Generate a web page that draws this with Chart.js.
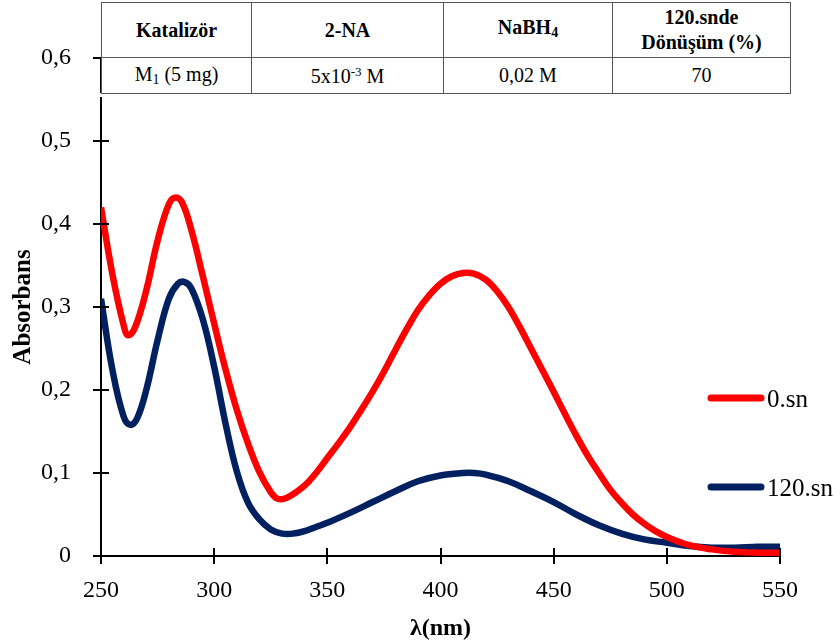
<!DOCTYPE html>
<html>
<head>
<meta charset="utf-8">
<script src="https://cdn.jsdelivr.net/npm/chart.js@4/dist/chart.umd.min.js"></script>
<style>
    html, body { margin: 0; padding: 0; background: #fff; }
    #wrap { position: relative; width: 840px; height: 643px; }
    #info {
        position: absolute; left: 101px; top: 2px; width: 689px; height: 91px;
        border-collapse: collapse; background: #fff;
        font-family: "Liberation Serif", "Times New Roman", serif; color: #000;
        table-layout: fixed;
    }
    #info td { border: 1px solid #555; text-align: center; padding: 0; }
    #info tr.head td { font-weight: bold; font-size: 20px; height: 54px; line-height: 25px; }
    #info tr.row td { font-size: 20px; height: 35px; }
    #info sub { font-size: 14px; vertical-align: -3px; }
    #info sup { font-size: 13px; vertical-align: 7px; }
    #mask { position: absolute; left: 96px; top: 93px; width: 10px; height: 4px; background: #fff; }
</style>
</head>
<body>
<div id="wrap">
    <canvas id="chart" width="840" height="643"></canvas>
    <div id="mask"></div>
    <table id="info">
        <colgroup><col style="width:150px"><col style="width:192px"><col style="width:169px"><col style="width:178px"></colgroup>
        <tr class="head">
            <td>Katalizör</td><td>2-NA</td><td>NaBH<sub>4</sub></td><td>120.snde<br>Dönüşüm (%)</td>
        </tr>
        <tr class="row">
            <td>M<sub>1</sub> (5 mg)</td><td>5x10<sup>-3</sup> M</td><td>0,02 M</td><td>70</td>
        </tr>
    </table>
</div>
<script>
// Spectra
const lambda0 = [250, 255, 260, 262, 265, 270, 275, 280, 283, 286, 290, 295, 300, 305, 310, 315, 320, 325, 328, 332,
    340, 345, 350, 355, 360, 365, 370, 375, 380, 385, 390, 395, 400, 405, 410, 415, 420, 425, 430, 435,
    440, 445, 450, 455, 460, 465, 470, 475, 480, 485, 490, 495, 500, 510, 520, 530, 540, 550];
const abs0 = [0.42, 0.34, 0.278, 0.266, 0.275, 0.32, 0.38, 0.424, 0.432, 0.425, 0.392, 0.337, 0.28, 0.225, 0.176, 0.135, 0.101, 0.077, 0.069, 0.07,
    0.085, 0.1, 0.118, 0.136, 0.155, 0.176, 0.198, 0.222, 0.248, 0.273, 0.296, 0.314, 0.328, 0.337, 0.341, 0.34, 0.333, 0.319, 0.3, 0.276,
    0.25, 0.224, 0.198, 0.171, 0.145, 0.121, 0.1, 0.08, 0.064, 0.05, 0.039, 0.03, 0.023, 0.013, 0.008, 0.005, 0.004, 0.004];

const lambda120 = [250, 255, 260, 263, 266, 270, 275, 280, 284, 287, 290, 295, 300, 305, 310, 315, 320, 325, 330, 335,
    340, 345, 350, 360, 370, 380, 390, 400, 410, 415, 420, 430, 440, 450, 460, 470, 480, 490, 500, 510,
    520, 530, 540, 550];
const abs120 = [0.31, 0.225, 0.168, 0.158, 0.166, 0.2, 0.26, 0.31, 0.328, 0.33, 0.322, 0.285, 0.228, 0.16, 0.102, 0.064, 0.044, 0.032, 0.027, 0.027,
    0.03, 0.035, 0.04, 0.052, 0.065, 0.078, 0.09, 0.097, 0.1, 0.1, 0.098, 0.09, 0.078, 0.065, 0.05, 0.037, 0.027, 0.02, 0.016, 0.012,
    0.01, 0.01, 0.011, 0.011];

const seriesLabels = ['0.sn', '120.sn'];
const seriesColors = ['#ff0000', '#002060'];

const serif = '"Liberation Serif", "Times New Roman", serif';

function toPoints(xs, ys) {
    return xs.map((x, i) => ({ x: x, y: ys[i] }));
}

// ticks that cross both axes
const crossTicks = {
    id: 'crossTicks',
    afterDraw(chart) {
        const ctx = chart.ctx;
        const xs = chart.scales.x, ys = chart.scales.y;
        ctx.save();
        ctx.strokeStyle = '#000';
        ctx.lineWidth = 2;
        ctx.beginPath();
        ys.ticks.forEach(t => {
            const py = Math.round(ys.getPixelForValue(t.value));
            ctx.moveTo(xs.left - 8, py);
            ctx.lineTo(xs.left + 8, py);
        });
        xs.ticks.forEach(t => {
            const px = Math.round(xs.getPixelForValue(t.value));
            ctx.moveTo(px, ys.bottom - 8);
            ctx.lineTo(px, ys.bottom + 8);
        });
        ctx.stroke();
        ctx.restore();
    }
};

// legend drawn inside the plot, at the right
const sideLegend = {
    id: 'sideLegend',
    afterDraw(chart) {
        const ctx = chart.ctx;
        const rows = [398, 487];
        ctx.save();
        ctx.font = '25px ' + serif;
        ctx.textBaseline = 'middle';
        chart.data.datasets.forEach((ds, i) => {
            const y = rows[i];
            ctx.strokeStyle = ds.borderColor;
            ctx.lineWidth = 7;
            ctx.lineCap = 'round';
            ctx.beginPath();
            ctx.moveTo(711, y);
            ctx.lineTo(761, y);
            ctx.stroke();
            ctx.fillStyle = '#000';
            ctx.fillText(ds.label, 767, y + 2);
        });
        ctx.restore();
    }
};

new Chart(document.getElementById('chart'), {
    type: 'line',
    data: {
        datasets: [{
            label: seriesLabels[0],
            data: toPoints(lambda0, abs0),
            borderColor: seriesColors[0],
            borderWidth: 6.5,
            pointRadius: 0,
            tension: 0.4
        }, {
            label: seriesLabels[1],
            data: toPoints(lambda120, abs120),
            borderColor: seriesColors[1],
            borderWidth: 6.5,
            pointRadius: 0,
            tension: 0.4
        }]
    },
    options: {
        responsive: false,
        animation: false,
        devicePixelRatio: 1,
        layout: { padding: { top: 58, right: 60, left: 0, bottom: 0 } },
        plugins: {
            legend: { display: false },
            tooltip: { enabled: false }
        },
        scales: {
            x: {
                type: 'linear',
                min: 250,
                max: 550,
                afterFit(scale) { scale.height = 87; },
                ticks: {
                    stepSize: 50,
                    padding: 12,
                    color: '#000',
                    maxRotation: 0,
                    font: { family: serif, size: 24 }
                },
                grid: { display: false },
                border: { display: true, color: '#000', width: 2 },
                title: {
                    display: true,
                    text: 'λ(nm)',
                    color: '#000',
                    padding: { top: 3, bottom: 0 },
                    font: { family: serif, size: 24, weight: 'bold' }
                }
            },
            y: {
                min: 0,
                max: 0.6,
                afterFit(scale) { scale.width = 101; },
                ticks: {
                    stepSize: 0.1,
                    padding: 22,
                    color: '#000',
                    font: { family: serif, size: 24 },
                    callback: v => v === 0 ? '0' : v.toFixed(1).replace('.', ',')
                },
                grid: { display: false },
                border: { display: true, color: '#000', width: 2 },
                title: {
                    display: true,
                    text: 'Absorbans',
                    color: '#000',
                    padding: { top: 9, bottom: 0 },
                    font: { family: serif, size: 25, weight: 'bold' }
                }
            }
        }
    },
    plugins: [crossTicks, sideLegend]
});
</script>
</body>
</html>
